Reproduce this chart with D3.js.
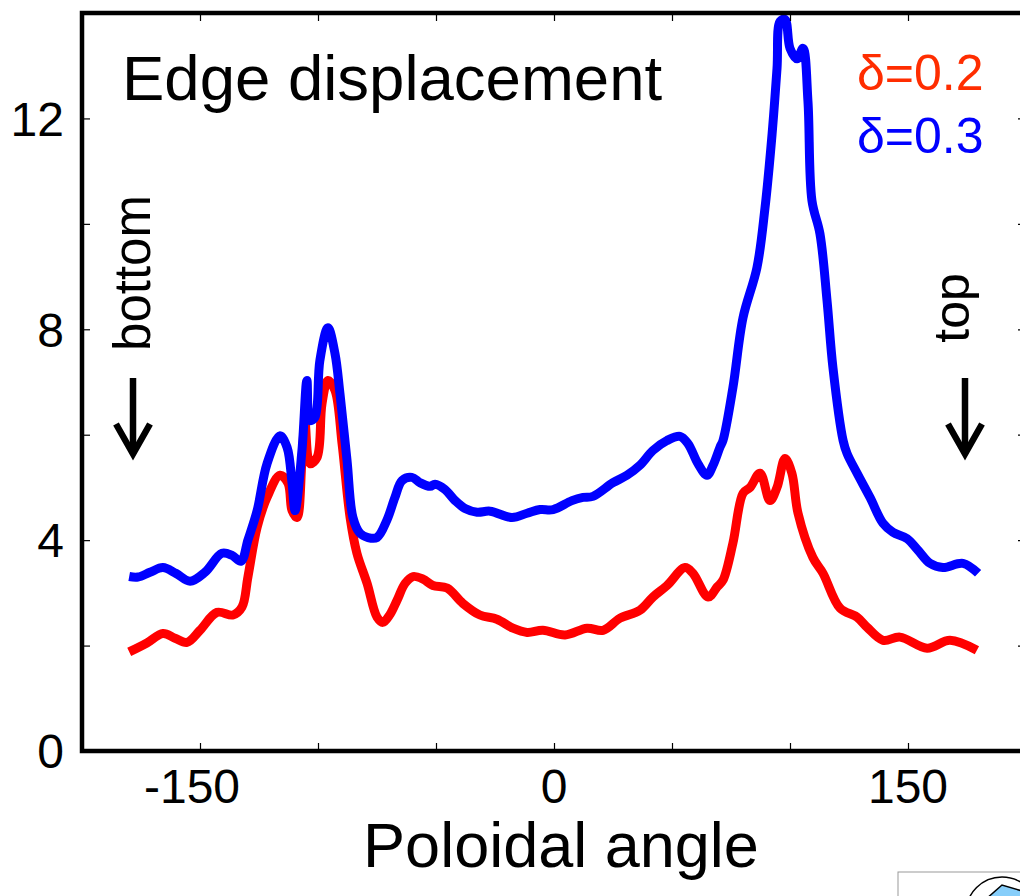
<!DOCTYPE html>
<html>
<head>
<meta charset="utf-8">
<script src="https://cdn.jsdelivr.net/npm/d3@7"></script>
<style>
  html, body { margin: 0; padding: 0; background: #fff; }
  svg { display: block; font-family: "Liberation Sans", Arial, sans-serif; }
</style>
</head>
<body>
<svg id="chart" width="1020" height="896"></svg>
<script>
// Edge displacement along the poloidal angle for two triangularities
const blueAngle = [-180, -176.3, -171.2, -165.7, -160.2, -154.2, -147.9, -140.7, -136.4, -132.6,
  -129.7, -125.8, -121.6, -116.1, -113.1, -111.0, -109.7, -106.8, -104.7, -103.4,
  -101.3, -99.2, -95.8, -92.8, -90.7, -87.7, -85.2, -82.2, -78.8, -75.0,
  -70.8, -67.4, -64.4, -60.2, -56.8, -52.5, -50.4, -46.2, -41.9, -37.7,
  -32.6, -27.1, -17.8, -11.4, -5.9, -0.4, 7.6, 12.3, 16.5, 25.0,
  30.9, 36.4, 41.9, 47.9, 53.4, 56.8, 61.0, 64.8, 67.4, 70.3,
  71.6, 75.8, 80.1, 86.0, 89.4, 92.4, 94.5, 95.8, 97.9, 100.0,
  103.0, 105.5, 107.6, 109.3, 112.7, 115.7, 118.2, 122.5, 124.2, 128.4,
  133.9, 139.4, 143.6, 149.6, 154.2, 159.3, 164.8, 173.3, 179.7];
const blueDisp = [3.31, 3.30, 3.39, 3.48, 3.37, 3.22, 3.39, 3.75, 3.71, 3.60,
  4.00, 4.56, 5.45, 5.98, 5.76, 5.08, 4.56, 5.70, 7.03, 6.27,
  6.33, 7.41, 8.03, 7.54, 6.78, 5.51, 4.43, 4.13, 4.05, 4.05,
  4.38, 4.81, 5.13, 5.19, 5.09, 5.02, 5.06, 4.96, 4.75, 4.60,
  4.53, 4.55, 4.43, 4.51, 4.58, 4.58, 4.75, 4.81, 4.83, 5.09,
  5.23, 5.42, 5.70, 5.89, 5.97, 5.83, 5.45, 5.23, 5.42, 5.76,
  5.89, 6.89, 8.22, 9.17, 10.30, 11.70, 12.95, 13.84, 13.88, 13.33,
  13.13, 13.33, 12.33, 10.44, 9.81, 8.54, 7.27, 5.89, 5.64, 5.27,
  4.81, 4.32, 4.15, 4.03, 3.81, 3.56, 3.48, 3.56, 3.37];

const redAngle = [-180, -172.5, -165.7, -160.6, -155.5, -150.0, -142.8, -136.0, -132.2, -129.7,
  -125.8, -121.6, -116.1, -112.7, -111.0, -108.9, -106.8, -105.5, -103.4, -100.4,
  -98.3, -95.8, -92.8, -89.8, -86.4, -83.5, -79.2, -75.0, -72.5, -69.5,
  -66.5, -63.1, -59.7, -55.5, -51.3, -45.3, -38.6, -31.4, -24.2, -17.4,
  -11.4, -4.7, 4.7, 14.0, 20.8, 28.0, 36.4, 41.9, 47.9, 55.5,
  58.9, 65.3, 69.1, 71.6, 75.8, 80.1, 83.1, 87.3, 91.5, 94.5,
  97.9, 100.8, 103.4, 109.7, 114.0, 121.2, 128.4, 132.6, 139.4, 146.6,
  158.1, 167.8, 179.2];
const redDisp = [1.88, 2.05, 2.23, 2.14, 2.06, 2.29, 2.63, 2.58, 2.73, 3.30,
  4.24, 4.81, 5.23, 5.08, 4.56, 4.43, 5.51, 6.21, 5.45, 5.57,
  6.59, 7.03, 6.84, 5.83, 4.43, 3.75, 3.18, 2.54, 2.44, 2.59,
  2.86, 3.18, 3.31, 3.26, 3.14, 3.09, 2.80, 2.58, 2.50, 2.33,
  2.25, 2.29, 2.20, 2.33, 2.29, 2.52, 2.67, 2.92, 3.14, 3.48,
  3.37, 2.92, 3.11, 3.24, 3.94, 4.89, 5.00, 5.27, 4.75, 5.00,
  5.55, 5.27, 4.51, 3.67, 3.37, 2.71, 2.54, 2.35, 2.10, 2.16,
  1.95, 2.10, 1.91];

const xTicks = [-150, -100, -50, 0, 50, 100, 150];
const xTickLabels = [-150, 0, 150];
const yTicks = [2, 4, 6, 8, 10, 12];
const yTickLabels = [0, 4, 8, 12];

const svg = d3.select("#chart");
const x = d3.scaleLinear().domain([-200, 200]).range([82, 1026]);
const y = d3.scaleLinear().domain([0, 14]).range([751, 13]);

// small inset sketch in the lower right corner
const inset = svg.append("g");
inset.append("rect").attr("x", 898).attr("y", 872).attr("width", 140).attr("height", 60)
  .attr("fill", "#fff").attr("stroke", "#999").attr("stroke-width", 1);
inset.append("circle").attr("cx", 1002).attr("cy", 913).attr("r", 36)
  .attr("fill", "none").attr("stroke", "#000").attr("stroke-width", 1.5);
inset.append("path").attr("d", "M985,900 L1002,885 L1022,891 L1022,900 Z")
  .attr("fill", "#87cefa").attr("stroke", "#000").attr("stroke-width", 1.5);

// curves
const line = d3.line()
  .x(d => x(d[0]))
  .y(d => y(d[1]))
  .curve(d3.curveCatmullRom.alpha(0.5));

const series = [
  { a: redAngle, v: redDisp, color: "#ff0000" },
  { a: blueAngle, v: blueDisp, color: "#0000ff" }
];
svg.append("g").selectAll("path").data(series).join("path")
  .attr("d", s => line(s.a.map((a, i) => [a, s.v[i]])))
  .attr("fill", "none")
  .attr("stroke", s => s.color)
  .attr("stroke-width", 9)
  .attr("stroke-linejoin", "round")
  .attr("stroke-linecap", "butt");

// inward ticks on all four sides
const tickLen = 8;
const bottomAxis = d3.axisBottom(x).tickValues(xTicks).tickSize(-tickLen).tickFormat("");
const topAxis = d3.axisTop(x).tickValues(xTicks).tickSize(-tickLen).tickFormat("");
const leftAxis = d3.axisLeft(y).tickValues(yTicks).tickSize(-tickLen).tickFormat("");
const rightAxis = d3.axisRight(y).tickValues(yTicks).tickSize(-tickLen).tickFormat("");
[
  [bottomAxis, `translate(0,${y(0)})`],
  [topAxis, `translate(0,${y(14)})`],
  [leftAxis, `translate(${x(-200)},0)`],
  [rightAxis, `translate(${x(200)},0)`]
].forEach(([ax, t]) => {
  const g = svg.append("g").attr("transform", t).call(ax);
  g.select(".domain").remove();
  g.selectAll(".tick line").attr("stroke", "#000").attr("stroke-width", 1.2);
});

// frame
svg.append("rect")
  .attr("x", x(-200)).attr("y", y(14))
  .attr("width", x(200) - x(-200)).attr("height", y(0) - y(14))
  .attr("fill", "none").attr("stroke", "#000").attr("stroke-width", 4.5);

// tick labels
const tickFont = 48;
svg.append("g").selectAll("text").data(xTickLabels).join("text")
  .attr("x", d => x(d) + String(Math.abs(d)).length * 0.556 * tickFont / 2)
  .attr("y", 803)
  .attr("text-anchor", "end")
  .attr("font-size", tickFont)
  .text(d => String(d));

svg.append("g").selectAll("text").data(yTickLabels).join("text")
  .attr("x", 64)
  .attr("y", d => y(d))
  .attr("dy", "0.36em")
  .attr("text-anchor", "end")
  .attr("font-size", tickFont)
  .text(d => d);

// axis title
svg.append("text").attr("x", 561).attr("y", 867).attr("text-anchor", "middle")
  .attr("font-size", 63).text("Poloidal angle");

// title inside the frame
svg.append("text").attr("x", 122).attr("y", 100)
  .attr("font-size", 63.5).text("Edge displacement");

// legend
svg.append("text").attr("x", 857).attr("y", 90).attr("font-size", 50)
  .attr("fill", "#ff2d00").text("δ=0.2");
svg.append("text").attr("x", 857).attr("y", 153).attr("font-size", 50)
  .attr("fill", "#0000ff").text("δ=0.3");

// side annotations
svg.append("text").attr("transform", "translate(150,273) rotate(-90)")
  .attr("text-anchor", "middle").attr("font-size", 51).text("bottom");
svg.append("text").attr("transform", "translate(969,308) rotate(-90)")
  .attr("text-anchor", "middle").attr("font-size", 50).text("top");

function arrow(cx, y0, y1) {
  const g = svg.append("g").attr("fill", "none").attr("stroke", "#000").attr("stroke-width", 6.5);
  g.append("line").attr("x1", cx).attr("x2", cx).attr("y1", y0).attr("y2", y1 - 4);
  g.append("path").attr("d", `M${cx - 17},${y1 - 34} L${cx},${y1 - 4} L${cx + 17},${y1 - 34}`)
    .attr("stroke-linejoin", "miter").attr("stroke-miterlimit", 10);
}
arrow(133, 378, 458);
arrow(965, 378, 458);
</script>
</body>
</html>
